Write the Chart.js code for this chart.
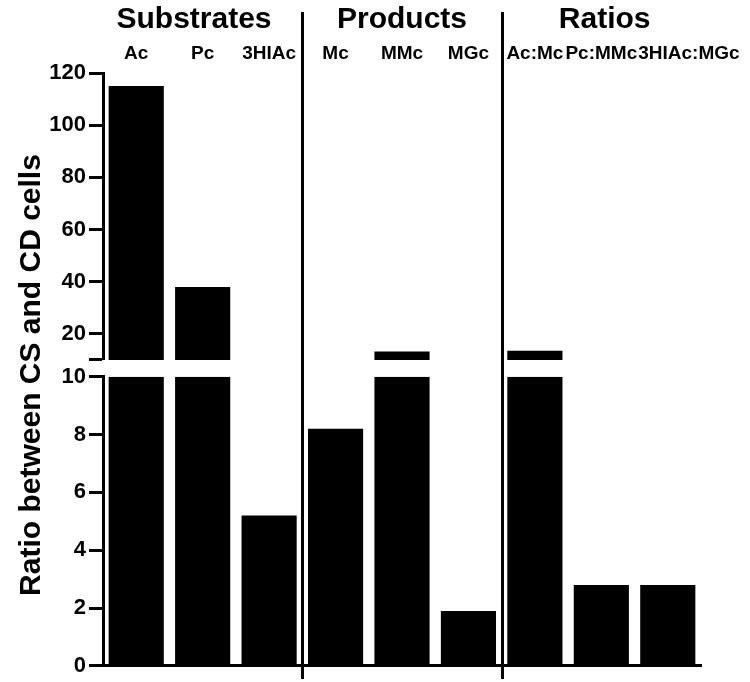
<!DOCTYPE html>
<html>
<head>
<meta charset="utf-8">
<script src="https://cdn.jsdelivr.net/npm/chart.js@4.4.1/dist/chart.umd.min.js"></script>
<style>
body{margin:0;background:#fff}
</style>
</head>
<body>
<canvas id="grafico" width="750" height="682"></canvas>
<script>
const categories = ['Ac', 'Pc', '3HIAc', 'Mc', 'MMc', 'MGc', 'Ac:Mc', 'Pc:MMc', '3HIAc:MGc'];
const groups = ['Substrates', 'Products', 'Ratios'];
const values = [115, 38, 5.2, 8.2, 13.3, 1.9, 13.5, 2.8, 2.8];
const lowTicks = [0, 2, 4, 6, 8, 10];
const highTicks = [10, 20, 40, 60, 80, 100, 120];
const breakAt = 10;
const yTitle = 'Ratio between CS and CD cells';

const font = '"Liberation Sans", Arial, Helvetica, sans-serif';
Chart.defaults.color = '#000';
Chart.defaults.font.family = font;

// bars under the break go on the low axis, the rest continue on the high one
const lowData = values.map(v => Math.min(v, breakAt));
const highData = values.map(v => v > breakAt ? v : null);

const extras = {
  id: 'extras',
  afterDraw(chart) {
    const ctx = chart.ctx;
    const x = chart.scales.x;
    ctx.save();
    ctx.strokeStyle = '#000';
    ctx.lineWidth = 3;
    [2.5, 5.5].forEach(p => {
      const px = Math.round(x.getPixelForValue(p)) + 0.5;
      ctx.beginPath();
      ctx.moveTo(px, 12);
      ctx.lineTo(px, 679);
      ctx.stroke();
    });
    ctx.fillStyle = '#000';
    ctx.textBaseline = 'middle';
    ctx.textAlign = 'center';
    ctx.font = 'bold 30px ' + font;
    // group titles sit roughly over the middle bar of each group
    [0.87, 4, 7.05].forEach((p, i) => ctx.fillText(groups[i], x.getPixelForValue(p), 20));
    ctx.font = 'bold 19px ' + font;
    ctx.textAlign = 'left';
    let prevEnd = 0;
    categories.forEach((c, i) => {
      const w = ctx.measureText(c).width;
      let left = x.getPixelForValue(i) - w / 2;
      if (left < prevEnd + 1) left = prevEnd + 1;
      ctx.fillText(c, left, 54);
      prevEnd = left + w;
    });
    ctx.translate(32, 375);
    ctx.rotate(-Math.PI / 2);
    ctx.textAlign = 'center';
    ctx.font = 'bold 30px ' + font;
    ctx.fillText(yTitle, 0, 0);
    ctx.restore();
  }
};

const tickFont = {size: 22, weight: 'bold'};
const grid = {drawOnChartArea: false, drawTicks: true, tickLength: 14, tickWidth: 3, tickColor: '#000'};
const border = {display: true, width: 3, color: '#000'};

const ctx = document.getElementById('grafico').getContext('2d');
new Chart(ctx, {
  type: 'bar',
  data: {
    labels: categories,
    datasets: [
      {label: 'low', data: lowData, yAxisID: 'yLow', backgroundColor: '#000', grouped: false, barPercentage: 0.83, categoryPercentage: 1},
      {label: 'high', data: highData, yAxisID: 'yHigh', backgroundColor: '#000', grouped: false, barPercentage: 0.83, categoryPercentage: 1}
    ]
  },
  options: {
    responsive: false,
    animation: false,
    devicePixelRatio: 1,
    layout: {padding: {top: 73, right: 49, bottom: 10, left: 0}},
    plugins: {legend: {display: false}, tooltip: {enabled: false}},
    scales: {
      x: {
        grid: {display: false, drawTicks: false},
        ticks: {display: false},
        border: border,
        afterFit: s => { s.height = 0; }
      },
      yHigh: {
        position: 'left', stack: 'y', stackWeight: 290, weight: 3,
        min: breakAt, max: 120,
        afterBuildTicks: s => { s.ticks = highTicks.map(v => ({value: v})); },
        ticks: {font: tickFont, padding: 3, autoSkip: false, callback: v => v === breakAt ? '' : v},
        grid: grid, border: border,
        afterFit: s => { s.width = 103; }
      },
      yGap: {
        position: 'left', stack: 'y', stackWeight: 17, weight: 2,
        min: 0, max: 1,
        ticks: {display: false},
        grid: {display: false, drawTicks: false},
        border: {display: false},
        afterFit: s => { s.width = 103; }
      },
      yLow: {
        position: 'left', stack: 'y', stackWeight: 292, weight: 1,
        min: 0, max: breakAt,
        afterBuildTicks: s => { s.ticks = lowTicks.map(v => ({value: v})); },
        ticks: {font: tickFont, padding: 3, autoSkip: false},
        grid: grid, border: border,
        afterFit: s => { s.width = 103; }
      }
    }
  },
  plugins: [extras]
});
</script>
</body>
</html>
